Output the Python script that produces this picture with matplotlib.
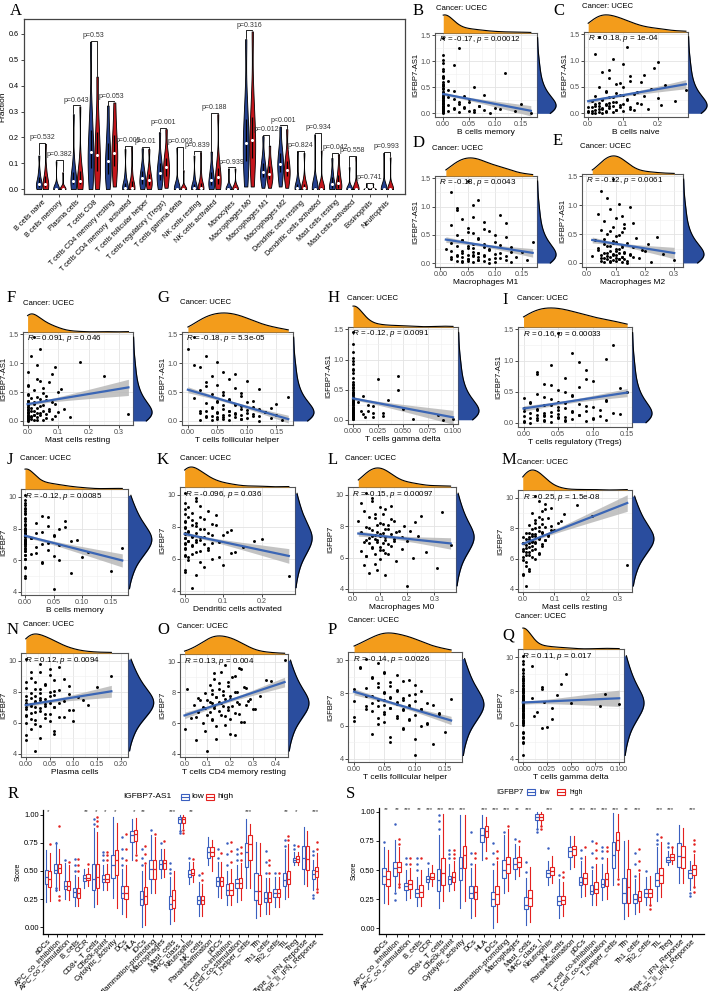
import numpy as np
import matplotlib.pyplot as plt
from matplotlib.patches import Rectangle
from matplotlib.lines import Line2D
from matplotlib.ticker import FormatStrFormatter, FixedLocator

plt.rcParams['font.family'] = ['Liberation Sans', 'DejaVu Sans']
plt.rcParams['mathtext.fontset'] = 'custom'
plt.rcParams['mathtext.it'] = 'Liberation Sans:italic'
plt.rcParams['mathtext.rm'] = 'Liberation Sans'

W, H = 709, 991

# ---------------- panel A: immune cell fractions (low / high) ----------------
cell_types = ['B cells naive', 'B cells memory', 'Plasma cells', 'T cells CD8',
              'T cells CD4 memory resting', 'T cells CD4 memory  activated',
              'T cells follicular helper', 'T cells regulatory (Tregs)',
              'T cells gamma delta', 'NK cells resting', 'NK cells activated',
              'Monocytes', 'Macrophages M0', 'Macrophages M1', 'Macrophages M2',
              'Dendritic cells resting', 'Dendritic cells activated',
              'Mast cells resting', 'Mast cells activated', 'Eosinophils',
              'Neutrophils']
cell_p = ['p=0.532', 'p=0.382', 'p=0.643', 'p=0.53', 'p=0.053', 'p=0.005',
          'p=0.01', 'p=0.001', 'p=0.003', 'p=0.839', 'p=0.188', 'p=0.939',
          'p=0.316', 'p=0.012', 'p<0.001', 'p=0.824', 'p=0.934', 'p=0.042',
          'p=0.558', 'p=0.741', 'p=0.993']
frac_low = [
    [0, 0.005, 0.01, 0.015, 0.02, 0.03, 0.045, 0.07, 0.13],
    [0, 0, 0, 0, 0, 0, 0.002, 0.01, 0.108],
    [0, 0.01, 0.02, 0.025, 0.03, 0.045, 0.065, 0.11, 0.29],
    [0, 0.04, 0.08, 0.11, 0.143, 0.18, 0.23, 0.31, 0.57],
    [0, 0.03, 0.06, 0.085, 0.107, 0.14, 0.18, 0.23, 0.323],
    [0, 0, 0, 0, 0.003, 0.01, 0.025, 0.06, 0.155],
    [0, 0.01, 0.02, 0.032, 0.044, 0.055, 0.07, 0.095, 0.158],
    [0, 0.02, 0.035, 0.05, 0.063, 0.08, 0.1, 0.13, 0.22],
    [0, 0, 0, 0, 0, 0, 0.002, 0.01, 0.16],
    [0, 0, 0, 0, 0.003, 0.008, 0.02, 0.05, 0.13],
    [0, 0.005, 0.015, 0.025, 0.037, 0.05, 0.065, 0.09, 0.145],
    [0, 0, 0, 0, 0, 0.002, 0.008, 0.02, 0.08],
    [0.01, 0.06, 0.11, 0.15, 0.18, 0.22, 0.27, 0.35, 0.58],
    [0.005, 0.03, 0.045, 0.057, 0.067, 0.08, 0.1, 0.13, 0.205],
    [0.01, 0.04, 0.065, 0.083, 0.098, 0.115, 0.14, 0.17, 0.242],
    [0, 0, 0, 0, 0.004, 0.01, 0.02, 0.05, 0.145],
    [0, 0, 0, 0, 0, 0.003, 0.01, 0.03, 0.212],
    [0, 0, 0.005, 0.01, 0.018, 0.03, 0.045, 0.07, 0.12],
    [0, 0, 0, 0, 0, 0, 0.002, 0.01, 0.085],
    [0, 0, 0, 0, 0, 0, 0, 0.002, 0.02],
    [0, 0, 0, 0, 0, 0, 0.002, 0.01, 0.14],
]
frac_high = [
    [0, 0.005, 0.01, 0.015, 0.02, 0.03, 0.05, 0.08, 0.175],
    [0, 0, 0, 0, 0, 0, 0.003, 0.012, 0.065],
    [0, 0.01, 0.02, 0.025, 0.03, 0.045, 0.07, 0.12, 0.32],
    [0, 0.03, 0.07, 0.1, 0.132, 0.17, 0.22, 0.29, 0.435],
    [0.01, 0.05, 0.09, 0.12, 0.141, 0.17, 0.21, 0.26, 0.335],
    [0, 0, 0, 0, 0.004, 0.012, 0.03, 0.07, 0.163],
    [0, 0.008, 0.017, 0.025, 0.034, 0.045, 0.06, 0.085, 0.155],
    [0.005, 0.03, 0.05, 0.07, 0.085, 0.1, 0.12, 0.15, 0.232],
    [0, 0, 0, 0, 0, 0, 0.002, 0.008, 0.073],
    [0, 0, 0, 0, 0.003, 0.01, 0.025, 0.06, 0.143],
    [0, 0.008, 0.02, 0.032, 0.045, 0.06, 0.08, 0.12, 0.29],
    [0, 0, 0, 0, 0, 0.002, 0.008, 0.02, 0.08],
    [0.01, 0.07, 0.12, 0.16, 0.19, 0.23, 0.28, 0.37, 0.61],
    [0.005, 0.025, 0.04, 0.05, 0.058, 0.07, 0.09, 0.115, 0.168],
    [0.005, 0.03, 0.05, 0.062, 0.072, 0.09, 0.11, 0.14, 0.232],
    [0, 0, 0, 0, 0.004, 0.01, 0.02, 0.045, 0.14],
    [0, 0, 0, 0, 0, 0.003, 0.01, 0.025, 0.15],
    [0, 0, 0.006, 0.013, 0.025, 0.038, 0.055, 0.08, 0.135],
    [0, 0, 0, 0, 0, 0, 0.003, 0.015, 0.125],
    [0, 0, 0, 0, 0, 0, 0, 0.002, 0.02],
    [0, 0, 0, 0, 0, 0, 0.002, 0.01, 0.123],
]

# ---------------- scatter panels B-Q ----------------
n_samples = 548
y_as1 = [0.0, 0.02, 0.03, 0.05, 0.06, 0.08, 0.09, 0.10, 0.12, 0.13,
         0.14, 0.15, 0.17, 0.18, 0.20, 0.21, 0.23, 0.25, 0.27, 0.29,
         0.31, 0.33, 0.35, 0.38, 0.40, 0.43, 0.46, 0.50, 0.53, 0.57,
         0.62, 0.67, 0.72, 0.78, 0.85, 0.93, 1.02, 1.12, 1.25, 1.45,
         0.01, 0.01, 0.02, 0.03, 0.04, 0.04, 0.05, 0.06, 0.07, 0.07,
         0.08, 0.09, 0.10, 0.11, 0.11, 0.12, 0.13, 0.14, 0.15, 0.16,
         0.17, 0.18, 0.19, 0.20, 0.22, 0.24, 0.26, 0.28, 0.30, 0.32,
         0.34, 0.37, 0.41, 0.45, 0.49, 0.55, 0.60, 0.70, 0.82, 0.97]
y_igf = [4.2, 4.9, 5.3, 5.6, 5.8, 6.0, 6.1, 6.2, 6.35, 6.45,
         6.55, 6.65, 6.75, 6.8, 6.9, 7.0, 7.05, 7.1, 7.2, 7.25,
         7.3, 7.4, 7.45, 7.5, 7.6, 7.7, 7.75, 7.85, 7.95, 8.05,
         8.15, 8.3, 8.45, 8.6, 8.8, 9.0, 9.25, 9.5, 9.8, 10.1,
         5.0, 5.2, 5.5, 5.9, 6.1, 6.25, 6.3, 6.4, 6.5, 6.6,
         6.7, 6.85, 6.95, 7.0, 7.05, 7.1, 7.15, 7.2, 7.3, 7.35,
         7.4, 7.5, 7.55, 7.6, 7.65, 7.7, 7.8, 7.9, 8.0, 8.1,
         8.2, 8.25, 8.35, 8.5, 8.65, 8.75, 8.9, 9.1, 9.3, 9.6]
x_b = [0.17, 0.06, 0.0, 0.05, 0.08, 0.0, 0.11, 0.02, 0.0, 0.04,
       0.0, 0.07, 0.0, 0.15, 0.0, 0.03, 0.0, 0.0, 0.05, 0.0,
       0.01, 0.0, 0.08, 0.0, 0.0, 0.02, 0.0, 0.06, 0.0, 0.0,
       0.01, 0.0, 0.0, 0.12, 0.0, 0.02, 0.0, 0.0, 0.03, 0.0,
       0.0, 0.09, 0.0, 0.03, 0.0, 0.14, 0.01, 0.0, 0.06, 0.0,
       0.02, 0.0, 0.1, 0.0, 0.04, 0.0, 0.0, 0.07, 0.0, 0.01,
       0.0, 0.03, 0.0, 0.0, 0.05, 0.0, 0.0, 0.02, 0.0, 0.0,
       0.04, 0.0, 0.0, 0.01, 0.0, 0.0, 0.0, 0.0, 0.0, 0.0]
x_c = [0.02, 0.0, 0.05, 0.01, 0.08, 0.03, 0.12, 0.04, 0.0, 0.06,
       0.02, 0.09, 0.05, 0.15, 0.03, 0.07, 0.01, 0.11, 0.04, 0.2,
       0.06, 0.02, 0.1, 0.08, 0.14, 0.05, 0.18, 0.03, 0.22, 0.09,
       0.12, 0.06, 0.16, 0.04, 0.19, 0.1, 0.07, 0.02, 0.11, 0.03,
       0.04, 0.01, 0.07, 0.03, 0.1, 0.0, 0.05, 0.13, 0.02, 0.08,
       0.04, 0.17, 0.06, 0.01, 0.09, 0.12, 0.03, 0.07, 0.21, 0.05,
       0.1, 0.02, 0.14, 0.06, 0.08, 0.25, 0.04, 0.11, 0.07, 0.16,
       0.09, 0.13, 0.05, 0.28, 0.1, 0.08, 0.15, 0.12, 0.06, 0.2]
x_d = [0.09, 0.13, 0.04, 0.07, 0.16, 0.05, 0.1, 0.02, 0.08, 0.12,
       0.06, 0.03, 0.11, 0.07, 0.15, 0.04, 0.09, 0.01, 0.06, 0.13,
       0.05, 0.08, 0.02, 0.1, 0.04, 0.07, 0.12, 0.03, 0.06, 0.09,
       0.05, 0.02, 0.08, 0.04, 0.11, 0.03, 0.06, 0.07, 0.02, 0.05,
       0.06, 0.04, 0.1, 0.03, 0.08, 0.05, 0.12, 0.07, 0.02, 0.09,
       0.05, 0.11, 0.04, 0.07, 0.14, 0.06, 0.03, 0.08, 0.05, 0.1,
       0.07, 0.04, 0.13, 0.06, 0.02, 0.09, 0.05, 0.08, 0.03, 0.11,
       0.06, 0.17, 0.04, 0.07, 0.1, 0.05, 0.08, 0.12, 0.06, 0.03]
x_e = [0.14, 0.22, 0.08, 0.3, 0.11, 0.05, 0.18, 0.12, 0.02, 0.09,
       0.15, 0.26, 0.07, 0.13, 0.1, 0.2, 0.04, 0.11, 0.16, 0.08,
       0.12, 0.06, 0.14, 0.09, 0.03, 0.17, 0.1, 0.07, 0.12, 0.05,
       0.09, 0.13, 0.06, 0.1, 0.04, 0.08, 0.11, 0.07, 0.05, 0.09,
       0.08, 0.12, 0.06, 0.1, 0.05, 0.14, 0.09, 0.07, 0.11, 0.13,
       0.06, 0.1, 0.08, 0.16, 0.12, 0.07, 0.1, 0.05, 0.15, 0.09,
       0.11, 0.06, 0.13, 0.08, 0.19, 0.1, 0.04, 0.12, 0.07, 0.21,
       0.09, 0.1, 0.06, 0.24, 0.11, 0.08, 0.13, 0.16, 0.12, 0.15]
x_f = [0.0, 0.03, 0.0, 0.06, 0.01, 0.0, 0.09, 0.02, 0.33, 0.0,
       0.04, 0.0, 0.07, 0.01, 0.0, 0.12, 0.03, 0.0, 0.05, 0.02,
       0.0, 0.08, 0.0, 0.04, 0.01, 0.06, 0.0, 0.1, 0.02, 0.05,
       0.0, 0.07, 0.03, 0.25, 0.0, 0.09, 0.17, 0.01, 0.04, 0.02,
       0.02, 0.0, 0.05, 0.0, 0.01, 0.08, 0.0, 0.03, 0.0, 0.14,
       0.01, 0.0, 0.04, 0.02, 0.0, 0.06, 0.0, 0.03, 0.1, 0.0,
       0.02, 0.05, 0.0, 0.07, 0.01, 0.0, 0.04, 0.0, 0.09, 0.02,
       0.0, 0.06, 0.03, 0.0, 0.05, 0.11, 0.0, 0.04, 0.08, 0.03]
x_g = [0.12, 0.16, 0.09, 0.14, 0.06, 0.11, 0.03, 0.15, 0.08, 0.1,
       0.05, 0.13, 0.07, 0.02, 0.12, 0.09, 0.04, 0.11, 0.06, 0.08,
       0.03, 0.1, 0.05, 0.07, 0.01, 0.09, 0.04, 0.06, 0.02, 0.08,
       0.05, 0.03, 0.07, 0.04, 0.06, 0.02, 0.05, 0.03, 0.0, 0.01,
       0.04, 0.07, 0.02, 0.09, 0.05, 0.06, 0.1, 0.03, 0.08, 0.05,
       0.12, 0.04, 0.07, 0.09, 0.06, 0.11, 0.02, 0.08, 0.05, 0.13,
       0.07, 0.03, 0.1, 0.06, 0.14, 0.04, 0.09, 0.08, 0.15, 0.05,
       0.11, 0.07, 0.17, 0.06, 0.09, 0.12, 0.03, 0.1, 0.08, 0.01]
x_h = [0.09, 0.1, 0.0, 0.02, 0.0, 0.085, 0.0, 0.01, 0.03, 0.0,
       0.0, 0.015, 0.0, 0.05, 0.0, 0.0, 0.02, 0.0, 0.0, 0.005,
       0.0, 0.035, 0.0, 0.0, 0.01, 0.0, 0.0, 0.045, 0.0, 0.0,
       0.0, 0.025, 0.045, 0.0, 0.0, 0.0, 0.0, 0.0, 0.0, 0.0,
       0.0, 0.0, 0.06, 0.0, 0.0, 0.012, 0.0, 0.0, 0.0, 0.03,
       0.0, 0.0, 0.0, 0.0, 0.02, 0.0, 0.0, 0.0, 0.008, 0.0,
       0.0, 0.0, 0.0, 0.0, 0.0, 0.015, 0.0, 0.0, 0.0, 0.0,
       0.0, 0.0, 0.0, 0.0, 0.0, 0.0, 0.0, 0.0, 0.0, 0.0]
x_i = [0.01, 0.06, 0.0, 0.03, 0.1, 0.02, 0.05, 0.0, 0.08, 0.03,
       0.14, 0.01, 0.04, 0.07, 0.02, 0.11, 0.0, 0.05, 0.09, 0.03,
       0.06, 0.01, 0.12, 0.04, 0.0, 0.07, 0.02, 0.15, 0.05, 0.08,
       0.03, 0.1, 0.06, 0.02, 0.09, 0.04, 0.12, 0.07, 0.13, 0.05,
       0.04, 0.0, 0.09, 0.03, 0.06, 0.12, 0.02, 0.07, 0.05, 0.1,
       0.01, 0.06, 0.03, 0.11, 0.04, 0.08, 0.02, 0.05, 0.13, 0.03,
       0.07, 0.0, 0.09, 0.05, 0.02, 0.06, 0.1, 0.04, 0.08, 0.01,
       0.05, 0.12, 0.03, 0.07, 0.06, 0.14, 0.04, 0.09, 0.02, 0.08]
x_j = [0.05, 0.0, 0.15, 0.0, 0.03, 0.06, 0.0, 0.1, 0.0, 0.02,
       0.0, 0.04, 0.0, 0.17, 0.0, 0.0, 0.03, 0.0, 0.08, 0.0,
       0.0, 0.01, 0.0, 0.05, 0.0, 0.0, 0.02, 0.0, 0.06, 0.0,
       0.04, 0.0, 0.07, 0.0, 0.03, 0.0, 0.0, 0.0, 0.0, 0.0,
       0.0, 0.08, 0.0, 0.03, 0.0, 0.05, 0.0, 0.01, 0.11, 0.0,
       0.0, 0.02, 0.06, 0.0, 0.0, 0.04, 0.0, 0.0, 0.09, 0.0,
       0.01, 0.0, 0.0, 0.05, 0.0, 0.0, 0.03, 0.0, 0.0, 0.07,
       0.0, 0.0, 0.02, 0.0, 0.0, 0.04, 0.0, 0.0, 0.0, 0.0]
x_k = [0.02, 0.27, 0.0, 0.1, 0.04, 0.07, 0.01, 0.0, 0.12, 0.03,
       0.06, 0.0, 0.15, 0.02, 0.05, 0.0, 0.09, 0.01, 0.03, 0.2,
       0.0, 0.04, 0.02, 0.07, 0.0, 0.11, 0.01, 0.05, 0.0, 0.03,
       0.08, 0.0, 0.02, 0.04, 0.0, 0.06, 0.01, 0.0, 0.03, 0.0,
       0.03, 0.0, 0.05, 0.01, 0.09, 0.0, 0.02, 0.13, 0.04, 0.0,
       0.06, 0.02, 0.0, 0.07, 0.03, 0.18, 0.01, 0.04, 0.0, 0.05,
       0.02, 0.1, 0.0, 0.03, 0.06, 0.01, 0.12, 0.04, 0.0, 0.02,
       0.07, 0.03, 0.0, 0.05, 0.01, 0.08, 0.02, 0.0, 0.04, 0.03]
x_l = [0.2, 0.12, 0.31, 0.08, 0.16, 0.22, 0.05, 0.13, 0.27, 0.1,
       0.18, 0.07, 0.14, 0.36, 0.11, 0.04, 0.2, 0.09, 0.15, 0.06,
       0.12, 0.24, 0.08, 0.1, 0.03, 0.17, 0.07, 0.13, 0.05, 0.09,
       0.11, 0.02, 0.14, 0.06, 0.08, 0.04, 0.1, 0.03, 0.07, 0.05,
       0.06, 0.09, 0.04, 0.1, 0.05, 0.08, 0.12, 0.03, 0.11, 0.07,
       0.1, 0.13, 0.06, 0.09, 0.15, 0.05, 0.12, 0.08, 0.18, 0.1,
       0.07, 0.14, 0.11, 0.16, 0.09, 0.21, 0.12, 0.06, 0.19, 0.13,
       0.1, 0.23, 0.15, 0.08, 0.25, 0.11, 0.33, 0.12, 0.14, 0.07]
x_m = [0.01, 0.0, 0.02, 0.33, 0.01, 0.04, 0.0, 0.02, 0.05, 0.01,
       0.03, 0.0, 0.02, 0.06, 0.01, 0.04, 0.0, 0.03, 0.07, 0.02,
       0.05, 0.0, 0.03, 0.08, 0.04, 0.02, 0.06, 0.1, 0.03, 0.05,
       0.09, 0.04, 0.12, 0.06, 0.22, 0.03, 0.07, 0.17, 0.05, 0.04,
       0.0, 0.02, 0.01, 0.0, 0.03, 0.01, 0.05, 0.02, 0.0, 0.04,
       0.01, 0.03, 0.06, 0.02, 0.0, 0.04, 0.03, 0.07, 0.01, 0.05,
       0.02, 0.04, 0.08, 0.03, 0.06, 0.01, 0.05, 0.09, 0.04, 0.07,
       0.02, 0.06, 0.11, 0.04, 0.08, 0.05, 0.13, 0.06, 0.09, 0.07]
x_n = [0.02, 0.0, 0.06, 0.01, 0.03, 0.0, 0.05, 0.02, 0.08, 0.0,
       0.04, 0.01, 0.03, 0.1, 0.0, 0.02, 0.06, 0.01, 0.04, 0.0,
       0.07, 0.02, 0.03, 0.12, 0.01, 0.05, 0.0, 0.09, 0.03, 0.06,
       0.02, 0.15, 0.04, 0.0, 0.08, 0.18, 0.01, 0.05, 0.03, 0.0,
       0.03, 0.0, 0.06, 0.02, 0.1, 0.01, 0.04, 0.07, 0.0, 0.05,
       0.02, 0.09, 0.03, 0.0, 0.06, 0.04, 0.13, 0.01, 0.05, 0.02,
       0.08, 0.0, 0.04, 0.03, 0.11, 0.02, 0.06, 0.01, 0.05, 0.07,
       0.03, 0.0, 0.09, 0.04, 0.02, 0.06, 0.01, 0.05, 0.03, 0.07]
x_o = [0.1, 0.05, 0.2, 0.0, 0.14, 0.08, 0.25, 0.12, 0.03, 0.18,
       0.1, 0.22, 0.06, 0.15, 0.3, 0.09, 0.19, 0.13, 0.04, 0.24,
       0.16, 0.11, 0.28, 0.07, 0.2, 0.14, 0.33, 0.17, 0.09, 0.23,
       0.12, 0.27, 0.19, 0.15, 0.36, 0.21, 0.13, 0.25, 0.18, 0.44,
       0.14, 0.22, 0.09, 0.18, 0.26, 0.12, 0.2, 0.05, 0.16, 0.24,
       0.11, 0.19, 0.31, 0.13, 0.08, 0.21, 0.17, 0.27, 0.12, 0.15,
       0.23, 0.1, 0.18, 0.29, 0.06, 0.14, 0.2, 0.12, 0.22, 0.17,
       0.01, 0.15, 0.26, 0.11, 0.19, 0.38, 0.13, 0.22, 0.16, 0.24]
x_p = [0.1, 0.13, 0.06, 0.15, 0.08, 0.11, 0.04, 0.12, 0.09, 0.07,
       0.0, 0.1, 0.05, 0.14, 0.03, 0.08, 0.11, 0.06, 0.02, 0.09,
       0.05, 0.12, 0.07, 0.0, 0.04, 0.08, 0.06, 0.03, 0.1, 0.05,
       0.07, 0.02, 0.06, 0.04, 0.09, 0.03, 0.05, 0.01, 0.04, 0.02,
       0.06, 0.1, 0.03, 0.08, 0.12, 0.05, 0.0, 0.09, 0.04, 0.07,
       0.14, 0.05, 0.08, 0.02, 0.11, 0.06, 0.09, 0.04, 0.13, 0.07,
       0.03, 0.1, 0.05, 0.08, 0.16, 0.06, 0.02, 0.09, 0.05, 0.11,
       0.07, 0.0, 0.04, 0.1, 0.06, 0.08, 0.03, 0.07, 0.05, 0.01]
x_q = [0.0, 0.0, 0.0, 0.0, 0.02, 0.0, 0.0, 0.0, 0.03, 0.0,
       0.0, 0.0, 0.015, 0.0, 0.0, 0.0, 0.0, 0.08, 0.0, 0.1,
       0.05, 0.0, 0.0, 0.0, 0.01, 0.0, 0.0, 0.085, 0.0, 0.0,
       0.02, 0.0, 0.04, 0.0, 0.0, 0.045, 0.0, 0.01, 0.0, 0.0,
       0.0, 0.0, 0.0, 0.025, 0.0, 0.0, 0.0, 0.0, 0.012, 0.0,
       0.0, 0.0, 0.0, 0.03, 0.0, 0.0, 0.0, 0.0, 0.0, 0.022,
       0.0, 0.0, 0.0, 0.0, 0.0, 0.0, 0.035, 0.0, 0.0, 0.0,
       0.0, 0.02, 0.0, 0.0, 0.0, 0.0, 0.0, 0.0, 0.0, 0.0]

scatter_stats = {
    'B': '$R$ = -0.17, $p$ = 0.00012', 'C': '$R$ = 0.18, $p$ = 1e-04',
    'D': '$R$ = -0.13, $p$ = 0.0043', 'E': '$R$ = -0.12, $p$ = 0.0061',
    'F': '$R$ = 0.091, $p$ = 0.046', 'G': '$R$ = -0.18, $p$ = 5.3e-05',
    'H': '$R$ = -0.12, $p$ = 0.0091', 'I': '$R$ = 0.16, $p$ = 0.00033',
    'J': '$R$ = -0.12, $p$ = 0.0085', 'K': '$R$ = -0.096, $p$ = 0.036',
    'L': '$R$ = -0.15, $p$ = 0.00097', 'M': '$R$ = 0.25, $p$ = 1.5e-08',
    'N': '$R$ = 0.12, $p$ = 0.0094', 'O': '$R$ = 0.13, $p$ = 0.004',
    'P': '$R$ = -0.14, $p$ = 0.0026', 'Q': '$R$ = 0.11, $p$ = 0.017',
}

# ---------------- panels R, S: ssGSEA scores ----------------
sig_names = ['aDCs', 'APC_co_inhibition', 'APC_co_stimulation', 'B_cells', 'CCR',
             'CD8+_T_cells', 'Check-point', 'Cytolytic_activity', 'DCs', 'HLA',
             'iDCs', 'Inflammation-promoting', 'Macrophages', 'Mast_cells',
             'MHC_class_I', 'Neutrophils', 'NK_cells', 'Parainflammation', 'pDCs',
             'T_cell_co-inhibition', 'T_cell_co-stimulation', 'T_helper_cells',
             'Tfh', 'Th1_cells', 'Th2_cells', 'TIL', 'Treg',
             'Type_I_IFN_Reponse', 'Type_II_IFN_Reponse']
# (lower whisker, q1, median, q3, upper whisker)
r_low = [(0.22, 0.38, 0.45, 0.51, 0.69), (0.32, 0.48, 0.51, 0.56, 0.76),
         (0.25, 0.34, 0.37, 0.41, 0.57), (0.19, 0.27, 0.31, 0.35, 0.46),
         (0.35, 0.41, 0.44, 0.46, 0.52), (0.18, 0.33, 0.43, 0.56, 0.88),
         (0.33, 0.40, 0.43, 0.46, 0.55), (0.26, 0.44, 0.55, 0.64, 0.98),
         (0.12, 0.26, 0.30, 0.37, 0.52), (0.60, 0.76, 0.82, 0.86, 0.96),
         (0.00, 0.20, 0.25, 0.32, 0.50), (0.30, 0.43, 0.52, 0.60, 0.82),
         (0.44, 0.52, 0.56, 0.60, 0.70), (0.03, 0.16, 0.21, 0.28, 0.45),
         (0.87, 0.93, 0.96, 0.98, 1.00), (0.38, 0.45, 0.47, 0.51, 0.58),
         (0.10, 0.21, 0.24, 0.28, 0.40), (0.55, 0.62, 0.67, 0.71, 0.80),
         (0.27, 0.37, 0.41, 0.45, 0.58), (0.20, 0.29, 0.33, 0.38, 0.50),
         (0.22, 0.35, 0.39, 0.43, 0.55), (0.35, 0.54, 0.67, 0.75, 0.96),
         (0.08, 0.24, 0.32, 0.48, 0.76), (0.12, 0.22, 0.26, 0.31, 0.44),
         (0.18, 0.27, 0.30, 0.34, 0.45), (0.25, 0.37, 0.42, 0.48, 0.70),
         (0.55, 0.58, 0.60, 0.62, 0.67), (0.38, 0.52, 0.62, 0.72, 0.89),
         (0.33, 0.43, 0.47, 0.51, 0.60)]
r_high = [(0.23, 0.36, 0.43, 0.50, 0.66), (0.33, 0.48, 0.53, 0.56, 0.70),
          (0.24, 0.33, 0.37, 0.41, 0.55), (0.19, 0.26, 0.30, 0.35, 0.45),
          (0.37, 0.42, 0.44, 0.47, 0.53), (0.21, 0.35, 0.45, 0.56, 0.85),
          (0.33, 0.40, 0.43, 0.47, 0.56), (0.17, 0.46, 0.60, 0.69, 0.93),
          (0.09, 0.25, 0.30, 0.37, 0.55), (0.66, 0.77, 0.83, 0.87, 0.97),
          (0.02, 0.21, 0.28, 0.36, 0.55), (0.30, 0.43, 0.52, 0.60, 0.80),
          (0.45, 0.52, 0.57, 0.60, 0.70), (0.05, 0.17, 0.24, 0.33, 0.50),
          (0.88, 0.93, 0.96, 0.98, 1.00), (0.40, 0.46, 0.48, 0.52, 0.58),
          (0.10, 0.21, 0.24, 0.28, 0.38), (0.50, 0.63, 0.67, 0.71, 0.78),
          (0.26, 0.37, 0.41, 0.45, 0.58), (0.20, 0.29, 0.33, 0.39, 0.52),
          (0.24, 0.35, 0.39, 0.44, 0.57), (0.35, 0.60, 0.74, 0.82, 0.92),
          (0.10, 0.21, 0.32, 0.46, 0.75), (0.12, 0.22, 0.26, 0.31, 0.44),
          (0.18, 0.27, 0.30, 0.34, 0.45), (0.27, 0.38, 0.43, 0.50, 0.74),
          (0.55, 0.58, 0.61, 0.63, 0.67), (0.37, 0.51, 0.61, 0.72, 0.86),
          (0.35, 0.45, 0.50, 0.54, 0.66)]
r_low_fl = [[], [0.75, 0.35, 0.33], [0.60], [0.50, 0.55, 0.61], [], [0.92, 0.96],
            [0.60, 0.64, 0.67], [], [0.55, 0.62, 0.70, 0.80], [], [0.55, 0.62, 0.70],
            [0.87], [0.75], [0.48, 0.52, 0.57], [0.84, 0.86], [0.62], [0.46], [],
            [0.62, 0.70], [0.55, 0.65, 0.75], [0.60, 0.65, 0.70], [], [],
            [0.48, 0.58, 0.68], [0.48], [0.72, 0.78], [0.70, 0.73], [],
            [0.26, 0.29, 0.64, 0.68]]
r_high_fl = [[0.74], [0.90, 0.28, 0.24], [0.58], [0.50, 0.55, 0.61], [0.56],
             [0.90, 0.95, 0.98], [0.60, 0.64, 0.67], [], [0.60, 0.70, 0.83],
             [0.60, 0.64], [0.57, 0.65, 0.72], [0.83], [0.77], [], [0.84, 0.87],
             [0.61], [0.42, 0.48], [], [0.66], [0.58, 0.68, 0.76], [0.60, 0.66, 0.71],
             [], [], [0.48, 0.55, 0.60], [0.48], [0.78, 0.81], [0.72], [],
             [0.31, 0.34, 0.70, 0.76]]
r_sig = ['*', '', '', '', '**', '*', '*', '*', '', '*', '**', '', '', '***', '',
         '**', '', '', '', '', '', '***', '', '', '', '**', '*', '', '***']

s_low = [(0.22, 0.38, 0.45, 0.52, 0.70), (0.32, 0.45, 0.52, 0.57, 0.76),
         (0.24, 0.33, 0.36, 0.39, 0.50), (0.19, 0.27, 0.30, 0.34, 0.44),
         (0.34, 0.40, 0.42, 0.45, 0.52), (0.17, 0.32, 0.41, 0.51, 0.80),
         (0.32, 0.38, 0.42, 0.45, 0.55), (0.17, 0.41, 0.52, 0.61, 0.97),
         (0.09, 0.26, 0.30, 0.36, 0.52), (0.59, 0.74, 0.80, 0.86, 0.97),
         (0.00, 0.19, 0.25, 0.31, 0.50), (0.30, 0.43, 0.50, 0.59, 0.80),
         (0.42, 0.51, 0.55, 0.60, 0.72), (0.03, 0.16, 0.20, 0.27, 0.43),
         (0.86, 0.93, 0.96, 0.98, 1.00), (0.37, 0.44, 0.47, 0.50, 0.58),
         (0.09, 0.20, 0.23, 0.28, 0.42), (0.51, 0.61, 0.66, 0.70, 0.79),
         (0.27, 0.37, 0.40, 0.44, 0.58), (0.20, 0.29, 0.32, 0.37, 0.50),
         (0.24, 0.35, 0.38, 0.42, 0.55), (0.37, 0.52, 0.63, 0.74, 0.99),
         (0.08, 0.22, 0.30, 0.43, 0.75), (0.12, 0.22, 0.25, 0.29, 0.42),
         (0.20, 0.27, 0.30, 0.34, 0.44), (0.23, 0.36, 0.41, 0.47, 0.70),
         (0.54, 0.57, 0.59, 0.61, 0.66), (0.39, 0.53, 0.62, 0.73, 0.89),
         (0.33, 0.43, 0.47, 0.50, 0.58)]
s_high = [(0.21, 0.36, 0.42, 0.49, 0.67), (0.35, 0.48, 0.53, 0.57, 0.70),
          (0.26, 0.34, 0.38, 0.41, 0.52), (0.19, 0.27, 0.31, 0.37, 0.50),
          (0.36, 0.42, 0.44, 0.47, 0.54), (0.23, 0.37, 0.47, 0.60, 0.98),
          (0.33, 0.40, 0.44, 0.48, 0.58), (0.23, 0.52, 0.63, 0.71, 0.97),
          (0.10, 0.25, 0.31, 0.36, 0.55), (0.66, 0.78, 0.84, 0.88, 0.96),
          (0.05, 0.21, 0.29, 0.36, 0.58), (0.32, 0.47, 0.55, 0.61, 0.85),
          (0.45, 0.53, 0.57, 0.61, 0.71), (0.05, 0.19, 0.26, 0.33, 0.53),
          (0.88, 0.93, 0.96, 0.98, 1.00), (0.39, 0.46, 0.49, 0.53, 0.62),
          (0.10, 0.21, 0.24, 0.28, 0.40), (0.53, 0.63, 0.68, 0.71, 0.79),
          (0.28, 0.38, 0.43, 0.47, 0.62), (0.20, 0.30, 0.34, 0.40, 0.55),
          (0.25, 0.36, 0.42, 0.47, 0.60), (0.44, 0.67, 0.76, 0.83, 0.98),
          (0.10, 0.22, 0.35, 0.51, 0.76), (0.14, 0.23, 0.27, 0.32, 0.47),
          (0.20, 0.27, 0.30, 0.34, 0.45), (0.27, 0.39, 0.46, 0.52, 0.74),
          (0.55, 0.59, 0.61, 0.64, 0.69), (0.39, 0.52, 0.61, 0.71, 0.86),
          (0.36, 0.46, 0.51, 0.54, 0.64)]
s_low_fl = [[0.74], [0.90, 0.30, 0.24], [0.55, 0.60], [0.50, 0.55, 0.60], [0.56],
            [0.85, 0.92, 0.97], [0.60, 0.64, 0.67], [], [0.55, 0.65, 0.83], [],
            [0.55, 0.65, 0.73], [0.83], [0.77], [0.48, 0.57], [0.83, 0.85], [0.69],
            [0.46], [], [0.60, 0.67], [0.53, 0.65, 0.75], [0.60, 0.66, 0.70], [], [],
            [0.45, 0.55, 0.65], [0.49], [0.72, 0.76, 0.81], [0.70, 0.73], [],
            [0.28, 0.30]]
s_high_fl = [[], [0.72, 0.77, 0.35, 0.38], [0.55, 0.60], [0.60], [], [],
             [0.60, 0.64, 0.67], [], [0.60, 0.65], [0.60], [0.60, 0.66], [0.88],
             [0.75], [], [0.85, 0.88], [], [0.44, 0.48], [], [0.70],
             [0.60, 0.67, 0.73], [0.66, 0.70], [0.38, 0.42], [], [0.50, 0.58, 0.68],
             [0.16, 0.20], [0.78], [0.70], [], [0.31, 0.35, 0.66, 0.72, 0.76]]
s_sig = ['**', '**', '***', '**', '***', '***', '***', '***', '', '***', '***',
         '***', '**', '***', '', '***', '', '**', '***', '***', '***', '***', '**',
         '***', '', '***', '***', '', '***']

VBLUE, VRED = '#24408e', '#c3161c'
ORANGE, NAVY = '#f39c1b', '#2a4d9e'
BLUE_LINE = '#3b66b5'
BOX_BLUE, BOX_RED = '#3a5fbf', '#e3211f'
SERIF = 'Liberation Serif'

fig = plt.figure(figsize=(W / 100, H / 100), dpi=100)


def px_axes(l, t, r, b):
    return fig.add_axes([l / W, 1 - b / H, (r - l) / W, (b - t) / H])


def px_text(x, y, s, **kw):
    fig.text(x / W, 1 - y / H, s, **kw)


def kde(vals, grid):
    v = np.asarray(vals, float)
    bw = 1.06 * v.std() * len(v) ** -0.2
    z = (grid[:, None] - v[None, :]) / bw
    return np.exp(-0.5 * z ** 2).sum(1) / (len(v) * bw)


# ---------------- A ----------------
axA = px_axes(24, 19, 405, 194)
pos = np.arange(len(cell_types))
OFF = 0.19
for data, off, col in [(frac_low, -OFF, VBLUE), (frac_high, OFF, VRED)]:
    vp = axA.violinplot(data, positions=pos + off, widths=0.34,
                        showextrema=False, bw_method=0.45)
    for body in vp['bodies']:
        body.set_facecolor(col)
        body.set_edgecolor('black')
        body.set_linewidth(0.6)
        body.set_alpha(1)
    q1 = [np.percentile(d, 25) for d in data]
    q3 = [np.percentile(d, 75) for d in data]
    med = [np.median(d) for d in data]
    axA.vlines(pos + off, q1, q3, color='black', lw=0.9, zorder=3)
    axA.scatter(pos + off, med, s=5, color='white', lw=0, zorder=4)
for i in pos:
    ml, mh = max(frac_low[i]), max(frac_high[i])
    top = max(ml, mh) + 0.004
    axA.plot([i - OFF, i - OFF, i + OFF, i + OFF],
             [ml + 0.004, top, top, mh + 0.004], color='black', lw=0.6)
    axA.text(i, top + 0.007, cell_p[i], ha='center', va='bottom', fontsize=5,
             color='#333333')
axA.set_xlim(-1.05, 21.05)
axA.set_ylim(-0.019, 0.658)
axA.set_xticks(pos)
axA.set_xticklabels(cell_types, rotation=45, ha='right', rotation_mode='anchor',
                    fontsize=5.2)
axA.set_yticks([0, 0.1, 0.2, 0.3, 0.4, 0.5, 0.6])
axA.yaxis.set_major_formatter(FormatStrFormatter('%.1f'))
axA.tick_params(labelsize=5.2, length=2, width=0.5, pad=1.5)
axA.set_ylabel('Fraction', fontsize=6, labelpad=2)
for sp in axA.spines.values():
    sp.set_color('#444444')
    sp.set_linewidth(0.9)
px_text(10, 3, 'A', fontsize=12, family=SERIF, va='top')

# ---------------- B-Q ----------------
AS1 = dict(y=y_as1, ylab='IGFBP7-AS1', ylim=(-0.07, 1.54), yticks=[0, 0.5, 1.0, 1.5], yfmt='%.1f')
IGF = dict(y=y_igf, ylab='IGFBP7', ylim=(3.8, 10.5), yticks=[4, 6, 8, 10], yfmt='%d')
T2 = [0, 0.05, 0.10, 0.15]
T1 = [0, 0.1, 0.2]
T3 = [0, 0.1, 0.2, 0.3]
TG = [0, 0.025, 0.05, 0.075, 0.1]
scatter_specs = [
    ('B', (435, 33, 537, 117), 14, 557, (413, 3), (436, 9), x_b, 'B cells memory', (-0.016, 0.182), T2, '%.2f', AS1),
    ('C', (584, 32, 688, 117), 14, 708, (553, 3), (582, 6), x_c, 'B cells naive', (-0.012, 0.286), T1, '%.1f', AS1),
    ('D', (435, 176, 537, 267), 157, 557, (413, 135), (432, 148), x_d, 'Macrophages M1', (-0.01, 0.178), T2, '%.2f', AS1),
    ('E', (582, 174, 683, 267), 155, 705, (553, 133), (580, 146), x_e, 'Macrophages M2', (-0.015, 0.33), T3, '%.1f', AS1),
    ('F', (23, 332, 133, 425), 313, 153, (7, 290), (23, 304), x_f, 'Mast cells resting', (-0.015, 0.345), T3, '%.1f', AS1),
    ('G', (182, 332, 293, 425), 312, 315, (157, 290), (180, 303), x_g, 'T cells follicular helper', (-0.01, 0.178), T2, '%.2f', AS1),
    ('H', (348, 327, 458, 424), 305, 480, (328, 290), (347, 298), x_h, 'T cells gamma delta', (-0.005, 0.105), TG, '%.3f', AS1),
    ('I', (518, 327, 632, 427), 307, 653, (502, 292), (517, 299), x_i, 'T cells regulatory (Tregs)', (-0.008, 0.157), T2, '%.2f', AS1),
    ('J', (21, 489, 128, 595), 468, 153, (7, 452), (20, 458), x_j, 'B cells memory', (-0.007, 0.18), T2, '%.2f', IGF),
    ('K', (180, 487, 295, 594), 466, 313, (157, 452), (180, 458), x_k, 'Dendritic cells activated', (-0.012, 0.286), T1, '%.1f', IGF),
    ('L', (348, 487, 456, 592), 467, 475, (328, 452), (345, 458), x_l, 'Macrophages M0', (-0.018, 0.38), T3, '%.1f', IGF),
    ('M', (518, 490, 632, 592), 469, 655, (502, 452), (517, 462), x_m, 'Mast cells resting', (-0.015, 0.345), T3, '%.1f', IGF),
    ('N', (21, 653, 128, 757), 633, 155, (7, 622), (23, 624), x_n, 'Plasma cells', (-0.01, 0.215), [0, 0.05, 0.1, 0.15, 0.2], '%.2f', IGF),
    ('O', (180, 654, 288, 757), 635, 310, (157, 622), (177, 626), x_o, 'T cells CD4 memory resting', (-0.02, 0.455), [0, 0.1, 0.2, 0.3, 0.4], '%.1f', IGF),
    ('P', (348, 652, 462, 762), 632, 485, (328, 622), (348, 620), x_p, 'T cells follicular helper', (-0.01, 0.178), T2, '%.2f', IGF),
    ('Q', (518, 649, 624, 762), 627, 645, (502, 627), (515, 617), x_q, 'T cells gamma delta', (-0.005, 0.105), TG, '%.3f', IGF),
]

for letter, box, top_t, right_r, let_xy, tit_xy, xv, xlab, xlim, xticks, xfmt, gene in scatter_specs:
    l, t, r, b = box
    x = np.asarray(xv, float)
    y = np.asarray(gene['y'], float)
    ax = px_axes(l, t, r, b)
    b1, b0 = np.polyfit(x, y, 1)
    xs = np.linspace(x.min(), x.max(), 60)
    fit = b0 + b1 * xs
    n = len(x)
    s = np.sqrt(((y - (b0 + b1 * x)) ** 2).sum() / (n - 2))
    se = s * np.sqrt(1 / n + (xs - x.mean()) ** 2 / ((x - x.mean()) ** 2).sum())
    se *= np.sqrt(n / n_samples)
    ax.fill_between(xs, fit - 1.96 * se, fit + 1.96 * se, color='#b5b5b5',
                    alpha=0.8, lw=0, zorder=2)
    ax.scatter(x, y, s=4.5, color='black', lw=0, zorder=3)
    ax.plot(xs, fit, color=BLUE_LINE, lw=1.6, zorder=4)
    ax.set_xlim(xlim)
    ax.set_ylim(gene['ylim'])
    ax.set_xticks(xticks)
    ax.set_yticks(gene['yticks'])
    ax.xaxis.set_major_formatter(FormatStrFormatter(xfmt))
    ax.yaxis.set_major_formatter(FormatStrFormatter(gene['yfmt']))
    xt = np.array(xticks, float)
    yt = np.array(gene['yticks'], float)
    ax.xaxis.set_minor_locator(FixedLocator((xt[:-1] + xt[1:]) / 2))
    ax.yaxis.set_minor_locator(FixedLocator((yt[:-1] + yt[1:]) / 2))
    ax.grid(True, which='major', color='#e3e3e3', lw=0.6)
    ax.grid(True, which='minor', color='#f0f0f0', lw=0.4)
    ax.set_axisbelow(True)
    ax.tick_params(which='major', labelsize=5.2, length=2, width=0.5, pad=1,
                   labelcolor='#4d4d4d')
    ax.tick_params(which='minor', length=0)
    for sp in ax.spines.values():
        sp.set_color('#555555')
        sp.set_linewidth(0.8)
    ax.set_xlabel(xlab, fontsize=6, labelpad=0.5)
    ax.set_ylabel(gene['ylab'], fontsize=5.5, labelpad=1)
    ax.text(0.04, 0.985, scatter_stats[letter], transform=ax.transAxes,
            fontsize=5.8, va='top', ha='left', zorder=5)

    # marginal densities
    axt = px_axes(l, top_t, r, t)
    gx = np.linspace(x.min(), x.max(), 200)
    dx = kde(x, gx)
    axt.fill_between(gx, 0, dx, color=ORANGE, lw=0)
    axt.plot(gx, dx, color='black', lw=0.8)
    axt.set_xlim(xlim)
    axt.set_ylim(0, dx.max() * 1.05)
    axt.axis('off')
    axr = px_axes(r, t, right_r, b)
    gy = np.linspace(y.min(), y.max(), 200)
    dy = kde(y, gy)
    axr.fill_betweenx(gy, 0, dy, color=NAVY, lw=0)
    axr.plot(dy, gy, color='black', lw=0.8)
    axr.set_ylim(gene['ylim'])
    axr.set_xlim(0, dy.max() * 1.05)
    axr.axis('off')

    px_text(let_xy[0], let_xy[1], letter, fontsize=12, family=SERIF, va='top')
    px_text(tit_xy[0], tit_xy[1], 'Cancer: UCEC', fontsize=5.6, va='center')


# ---------------- R, S ----------------
def box_panel(box, low, high, low_fl, high_fl, sig, ylim, xlim, sig_y):
    ax = px_axes(*box)
    p = np.arange(len(sig_names))
    for stats_, fl, off, col in [(low, low_fl, -0.19, BOX_BLUE),
                                 (high, high_fl, 0.19, BOX_RED)]:
        st = [dict(whislo=a, q1=b, med=c, q3=d, whishi=e, fliers=f)
              for (a, b, c, d, e), f in zip(stats_, fl)]
        ax.bxp(st, positions=p + off, widths=0.34, showcaps=False,
               patch_artist=True,
               boxprops=dict(facecolor='white', edgecolor=col, lw=0.8),
               medianprops=dict(color=col, lw=0.9),
               whiskerprops=dict(color=col, lw=0.8),
               flierprops=dict(marker='o', markersize=1.8, markerfacecolor=col,
                               markeredgecolor='none'))
    for i, s in enumerate(sig):
        if s:
            ax.text(i, sig_y, s, ha='center', va='center', fontsize=4.5,
                    color='#333333', clip_on=False)
    ax.set_xlim(xlim)
    ax.set_ylim(ylim)
    ax.set_xticks(p)
    ax.set_xticklabels(sig_names, rotation=45, ha='right', rotation_mode='anchor',
                       fontsize=4.2)
    ax.set_yticks([0, 0.25, 0.5, 0.75, 1.0])
    ax.yaxis.set_major_formatter(FormatStrFormatter('%.2f'))
    ax.tick_params(labelsize=5.5, length=2, width=0.6, pad=1)
    ax.tick_params(axis='x', pad=0.5)
    ax.spines['top'].set_visible(False)
    ax.spines['right'].set_visible(False)
    for k in ('left', 'bottom'):
        ax.spines[k].set_linewidth(0.9)
    ax.set_ylabel('Score', fontsize=5, labelpad=2)
    return ax


box_panel((43, 810, 322, 934), r_low, r_high, r_low_fl, r_high_fl, r_sig,
          (-0.062, 1.044), (-0.52, 28.73), 1.03)
box_panel((379, 808, 704, 934), s_low, s_high, s_low_fl, s_high_fl, s_sig,
          (-0.051, 1.034), (-0.64, 29.1), 1.02)
px_text(8, 786, 'R', fontsize=12, family=SERIF, va='top')
px_text(346, 786, 'S', fontsize=12, family=SERIF, va='top')


def legend_icon(x, y, col):
    fig.add_artist(Rectangle((x / W, 1 - (y + 3) / H), 8 / W, 6 / H,
                             transform=fig.transFigure, fill=False,
                             edgecolor=col, lw=0.8))
    fig.add_artist(Line2D([x / W, (x + 8) / W], [1 - y / H, 1 - y / H],
                          transform=fig.transFigure, color=col, lw=0.8))


px_text(123, 797, 'IGFBP7-AS1', fontsize=6, va='center')
legend_icon(181, 797, BOX_BLUE)
px_text(191, 797, 'low', fontsize=6, va='center')
legend_icon(206, 797, BOX_RED)
px_text(217, 797, 'high', fontsize=6, va='center')

px_text(496, 792, 'IGFBP7', fontsize=5.5, va='center')
legend_icon(527, 792, BOX_BLUE)
px_text(539, 792, 'low', fontsize=5, va='center')
legend_icon(557, 792, BOX_RED)
px_text(569, 792, 'high', fontsize=5, va='center')

fig.savefig('out.png', dpi=100)
